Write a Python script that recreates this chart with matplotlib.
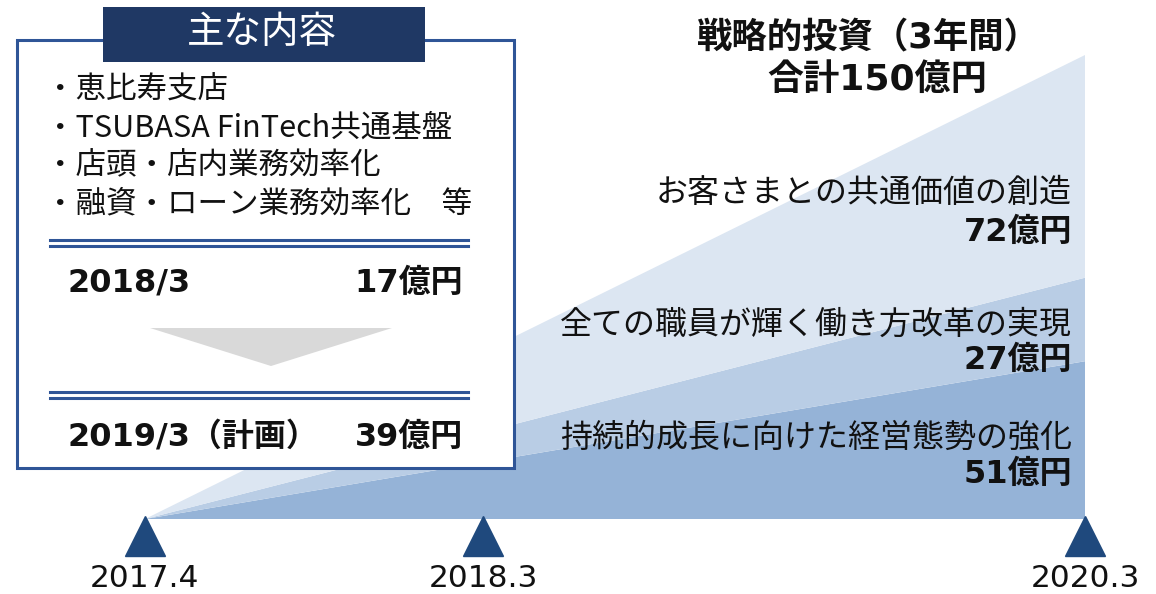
import matplotlib.pyplot as plt
import matplotlib.patches as mpatches

plt.rcParams['font.family'] = ['Noto Sans CJK JP', 'DejaVu Sans']
num_font = ['DejaVu Sans', 'Noto Sans CJK JP']

# data
categories = ['持続的成長に向けた経営態勢の強化', '全ての職員が輝く働き方改革の実現', 'お客さまとの共通価値の創造']
amounts = [51, 27, 72]
amount_labels = ['51億円', '27億円', '72億円']
total_label = '合計150億円'
timeline_labels = ['2017.4', '2018.3', '2020.3']
timeline_pos = [0.0, 0.36, 1.0]
contents = ['・恵比寿支店', '・TSUBASA FinTech共通基盤', '・店頭・店内業務効率化', '・融資・ローン業務効率化\u3000等']
years = ['2018/3', '2019/3（計画）']
year_amounts = ['17億円', '39億円']

colors = ['#95B3D7', '#B9CDE5', '#DCE6F2']
navy = '#1F3864'
line_blue = '#2F5597'

W, H = 1156, 594
fig = plt.figure(figsize=(W / 100, H / 100), dpi=100)

# stacked area (triangles)
ax = fig.add_axes([145 / W, (H - 519) / H, 940 / W, 464 / H])
ax.stackplot([0, 1], [[0, a] for a in amounts], colors=colors, lw=0)
ax.set_xlim(0, 1)
ax.set_ylim(0, sum(amounts))
ax.axis('off')

ax.plot(timeline_pos, [-0.037] * 3, ls='none', marker='^', ms=29, color='#1F497D',
        transform=ax.get_xaxis_transform(), clip_on=False)
for x, lab in zip(timeline_pos, timeline_labels):
    ax.text(x, -0.128, lab, transform=ax.get_xaxis_transform(), ha='center', va='center',
            fontsize=22.5, family=num_font, color='#111111')

# category labels at right edge
label_y = [[438, 474], [325, 360], [193, 232]]
for (y1, y2), cat, amt in zip(label_y, categories, amount_labels):
    fig.text(1072 / W, 1 - y1 / H, cat, ha='right', va='center', fontsize=23, color='#111111')
    fig.text(1072 / W, 1 - y2 / H, amt, ha='right', va='center', fontsize=23,
             fontweight='bold', family=num_font, color='#111111')

fig.text(868 / W, 1 - 38 / H, '戦略的投資（3年間）', ha='center', va='center', fontsize=25.5,
         fontweight='bold', family=num_font, color='#111111')
fig.text(877 / W, 1 - 80 / H, total_label, ha='center', va='center', fontsize=26,
         fontweight='bold', family=num_font, color='#111111')

# left box overlay
ov = fig.add_axes([0, 0, 1, 1])
ov.set_xlim(0, W)
ov.set_ylim(H, 0)
ov.axis('off')
ov.patch.set_alpha(0)

ov.add_patch(mpatches.Rectangle((17, 40), 497, 428, facecolor='white', edgecolor=line_blue, lw=2.2))
ov.add_patch(mpatches.Rectangle((103, 7), 322, 55, facecolor=navy, edgecolor='none'))
ov.text(262, 32, '主な内容', ha='center', va='center', fontsize=27, color='white')

for i, line in enumerate(contents):
    ov.text(45, 90 + i * 38, line, ha='left', va='center', fontsize=22, color='#111111')

for yy in [240, 246, 392, 398]:
    ov.plot([50, 468], [yy, yy], color=line_blue, lw=2.2)

ov.add_patch(mpatches.Polygon([(150, 328), (392, 328), (271, 366)], closed=True,
                              facecolor='#D9D9D9', edgecolor='none'))

for yy, yr, amt in zip([283, 437], years, year_amounts):
    ov.text(68, yy, yr, ha='left', va='center', fontsize=23, fontweight='bold',
            family=num_font, color='#111111')
    ov.text(463, yy, amt, ha='right', va='center', fontsize=23, fontweight='bold',
            family=num_font, color='#111111')

fig.savefig('out.png', dpi=100)
